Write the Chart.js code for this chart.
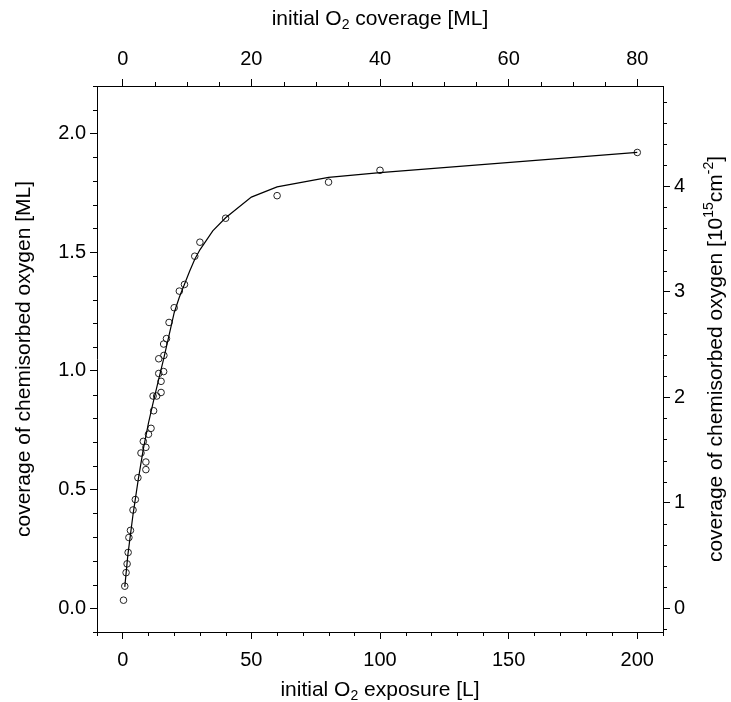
<!DOCTYPE html>
<html>
<head>
<meta charset="utf-8">
<script src="https://cdn.jsdelivr.net/npm/chart.js@4.4.1/dist/chart.umd.min.js"></script>
<style>
  body { margin: 0; background: #fff; }
  canvas { display: block; }
</style>
</head>
<body>
<canvas id="oxygenChart" width="731" height="702"></canvas>
<script>
// Messpunkte: Belichtung [L] und Bedeckung [ML]
const exposure = [0.3, 0.8, 1.3, 1.7, 2.1, 2.4, 3.0, 4.0, 4.9, 5.9, 9.0, 9.0, 7.1, 9.0, 8.0, 10.0,
    11.0, 12.0, 11.8, 13.2, 14.9, 14.9, 14.0, 15.9, 16.0, 14.0, 15.9, 17.0, 18.0, 20.0, 22.0, 24.0,
    28.0, 30.0, 40.0, 60.0, 80.0, 100.0, 200.0];
const coverage = [0.034, 0.093, 0.150, 0.187, 0.235, 0.298, 0.328, 0.414, 0.458, 0.550, 0.584, 0.616,
    0.654, 0.678, 0.703, 0.733, 0.758, 0.832, 0.894, 0.894, 0.909, 0.956, 0.989, 0.997, 1.065, 1.051,
    1.113, 1.136, 1.204, 1.266, 1.336, 1.364, 1.483, 1.542, 1.643, 1.738, 1.795, 1.845, 1.920];

// Fit-Kurve
const fitExposure = [0.8, 2, 4, 6, 8, 10, 12, 14, 16, 18, 20, 22, 24, 26, 28, 30, 35, 40, 50, 60, 80, 100, 200];
const fitCoverage = [0.09, 0.225, 0.395, 0.54, 0.67, 0.78, 0.875, 0.965, 1.055, 1.15, 1.245, 1.31, 1.365,
    1.42, 1.47, 1.51, 1.59, 1.645, 1.732, 1.775, 1.815, 1.835, 1.92];

// Achsen-Ticks
const exposureTicks = [0, 50, 100, 150, 200];
const exposureMinor = [-10, 10, 20, 30, 40, 60, 70, 80, 90, 110, 120, 130, 140, 160, 170, 180, 190, 210];
const mlTicks = [0, 20, 40, 60, 80];
const mlMinor = [5, 10, 15, 25, 30, 35, 45, 50, 55, 65, 70, 75];
const coverageTicks = [0, 0.5, 1.0, 1.5, 2.0];
const coverageMinor = [-0.1, 0.1, 0.2, 0.3, 0.4, 0.6, 0.7, 0.8, 0.9, 1.1, 1.2, 1.3, 1.4, 1.6, 1.7, 1.8, 1.9, 2.1, 2.2];
const densityTicks = [0, 1, 2, 3, 4];
const densityMinor = [-0.2, 0.2, 0.4, 0.6, 0.8, 1.2, 1.4, 1.6, 1.8, 2.2, 2.4, 2.6, 2.8, 3.2, 3.4, 3.6, 3.8, 4.2, 4.4, 4.6, 4.8];

const FONT = '"Liberation Sans", Arial, sans-serif';
const TITLE_SIZE = 21;
const minorMap = { x: exposureMinor, x2: mlMinor, y: coverageMinor, y2: densityMinor };

// kleine Ticks zeichnen
const minorTickPlugin = {
    id: 'minorTicks',
    afterDraw(chart) {
        const ctx = chart.ctx;
        const area = chart.chartArea;
        const len = 4;
        ctx.save();
        ctx.strokeStyle = '#000';
        ctx.lineWidth = 1;
        Object.keys(minorMap).forEach(id => {
            const scale = chart.scales[id];
            minorMap[id].forEach(v => {
                const p = Math.round(scale.getPixelForValue(v)) + 0.5;
                ctx.beginPath();
                if (id === 'x') { ctx.moveTo(p, area.bottom); ctx.lineTo(p, area.bottom + len); }
                if (id === 'x2') { ctx.moveTo(p, area.top); ctx.lineTo(p, area.top - len); }
                if (id === 'y') { ctx.moveTo(area.left, p); ctx.lineTo(area.left - len, p); }
                if (id === 'y2') { ctx.moveTo(area.right, p); ctx.lineTo(area.right + len, p); }
                ctx.stroke();
            });
        });
        ctx.restore();
    }
};

// Achsentitel mit Hoch-/Tiefstellung
function drawRich(ctx, runs, x, y, angle) {
    const big = TITLE_SIZE + 'px ' + FONT;
    const small = Math.round(TITLE_SIZE * 0.65) + 'px ' + FONT;
    let total = 0;
    runs.forEach(r => {
        ctx.font = r.sub || r.sup ? small : big;
        total += ctx.measureText(r.t).width;
    });
    ctx.save();
    ctx.translate(x, y);
    ctx.rotate(angle);
    ctx.fillStyle = '#000';
    ctx.textBaseline = 'alphabetic';
    let pos = -total / 2;
    const base = TITLE_SIZE * 0.36;
    runs.forEach(r => {
        ctx.font = r.sub || r.sup ? small : big;
        let dy = base;
        if (r.sub) dy = base + TITLE_SIZE * 0.22;
        if (r.sup) dy = base - TITLE_SIZE * 0.42;
        ctx.fillText(r.t, pos, dy);
        pos += ctx.measureText(r.t).width;
    });
    ctx.restore();
}

const axisTitlePlugin = {
    id: 'axisTitles',
    afterDraw(chart) {
        const ctx = chart.ctx;
        const a = chart.chartArea;
        const cx = (a.left + a.right) / 2;
        const cy = (a.top + a.bottom) / 2;
        drawRich(ctx, [{ t: 'initial O' }, { t: '2', sub: true }, { t: ' exposure [L]' }], cx, 688, 0);
        drawRich(ctx, [{ t: 'initial O' }, { t: '2', sub: true }, { t: ' coverage [ML]' }], cx, 17, 0);
        drawRich(ctx, [{ t: 'coverage of chemisorbed oxygen [ML]' }], 22, cy, -Math.PI / 2);
        drawRich(ctx, [{ t: 'coverage of chemisorbed oxygen [10' }, { t: '15', sup: true }, { t: 'cm' },
            { t: '-2', sup: true }, { t: ']' }], 714, cy, -Math.PI / 2);
    }
};

function makeAxis(position, min, max, majors, size, padding, fmt) {
    const horizontal = position === 'top' || position === 'bottom';
    return {
        type: 'linear',
        position: position,
        min: min,
        max: max,
        afterBuildTicks: scale => { scale.ticks = majors.map(v => ({ value: v })); },
        afterFit: scale => {
            if (horizontal) scale.height = size; else scale.width = size;
        },
        grid: { drawOnChartArea: false, drawTicks: true, tickLength: 7, color: '#000', lineWidth: 1 },
        border: { display: true, color: '#000', width: 1 },
        ticks: {
            color: '#000',
            padding: padding,
            maxRotation: 0,
            autoSkip: false,
            font: { family: FONT, size: 20 },
            callback: fmt
        },
        title: { display: false }
    };
}

document.addEventListener('DOMContentLoaded', function() {
    const ctx = document.getElementById('oxygenChart').getContext('2d');
    new Chart(ctx, {
        type: 'scatter',
        data: {
            datasets: [{
                label: 'Fit',
                data: fitExposure.map((x, i) => ({ x: x, y: fitCoverage[i] })),
                showLine: true,
                borderColor: '#000',
                borderWidth: 1.2,
                pointRadius: 0,
                tension: 0,
                xAxisID: 'x',
                yAxisID: 'y'
            }, {
                label: 'Messung',
                data: exposure.map((x, i) => ({ x: x, y: coverage[i] })),
                showLine: false,
                pointStyle: 'circle',
                pointRadius: 3.3,
                borderColor: '#222',
                backgroundColor: 'rgba(0,0,0,0)',
                borderWidth: 1,
                xAxisID: 'x',
                yAxisID: 'y'
            }]
        },
        options: {
            responsive: false,
            devicePixelRatio: 1,
            animation: false,
            layout: { padding: 0 },
            plugins: {
                legend: { display: false },
                tooltip: { enabled: false }
            },
            scales: {
                x: makeAxis('bottom', -10, 210, exposureTicks, 70, 9, v => String(v)),
                x2: makeAxis('top', -4, 84, mlTicks, 86, 8, v => String(v)),
                y: makeAxis('left', -0.1, 2.2, coverageTicks, 97, 4, v => v.toFixed(1)),
                y2: makeAxis('right', -0.225, 4.95, densityTicks, 68, 4, v => String(v))
            }
        },
        plugins: [minorTickPlugin, axisTitlePlugin]
    });
});
</script>
</body>
</html>
